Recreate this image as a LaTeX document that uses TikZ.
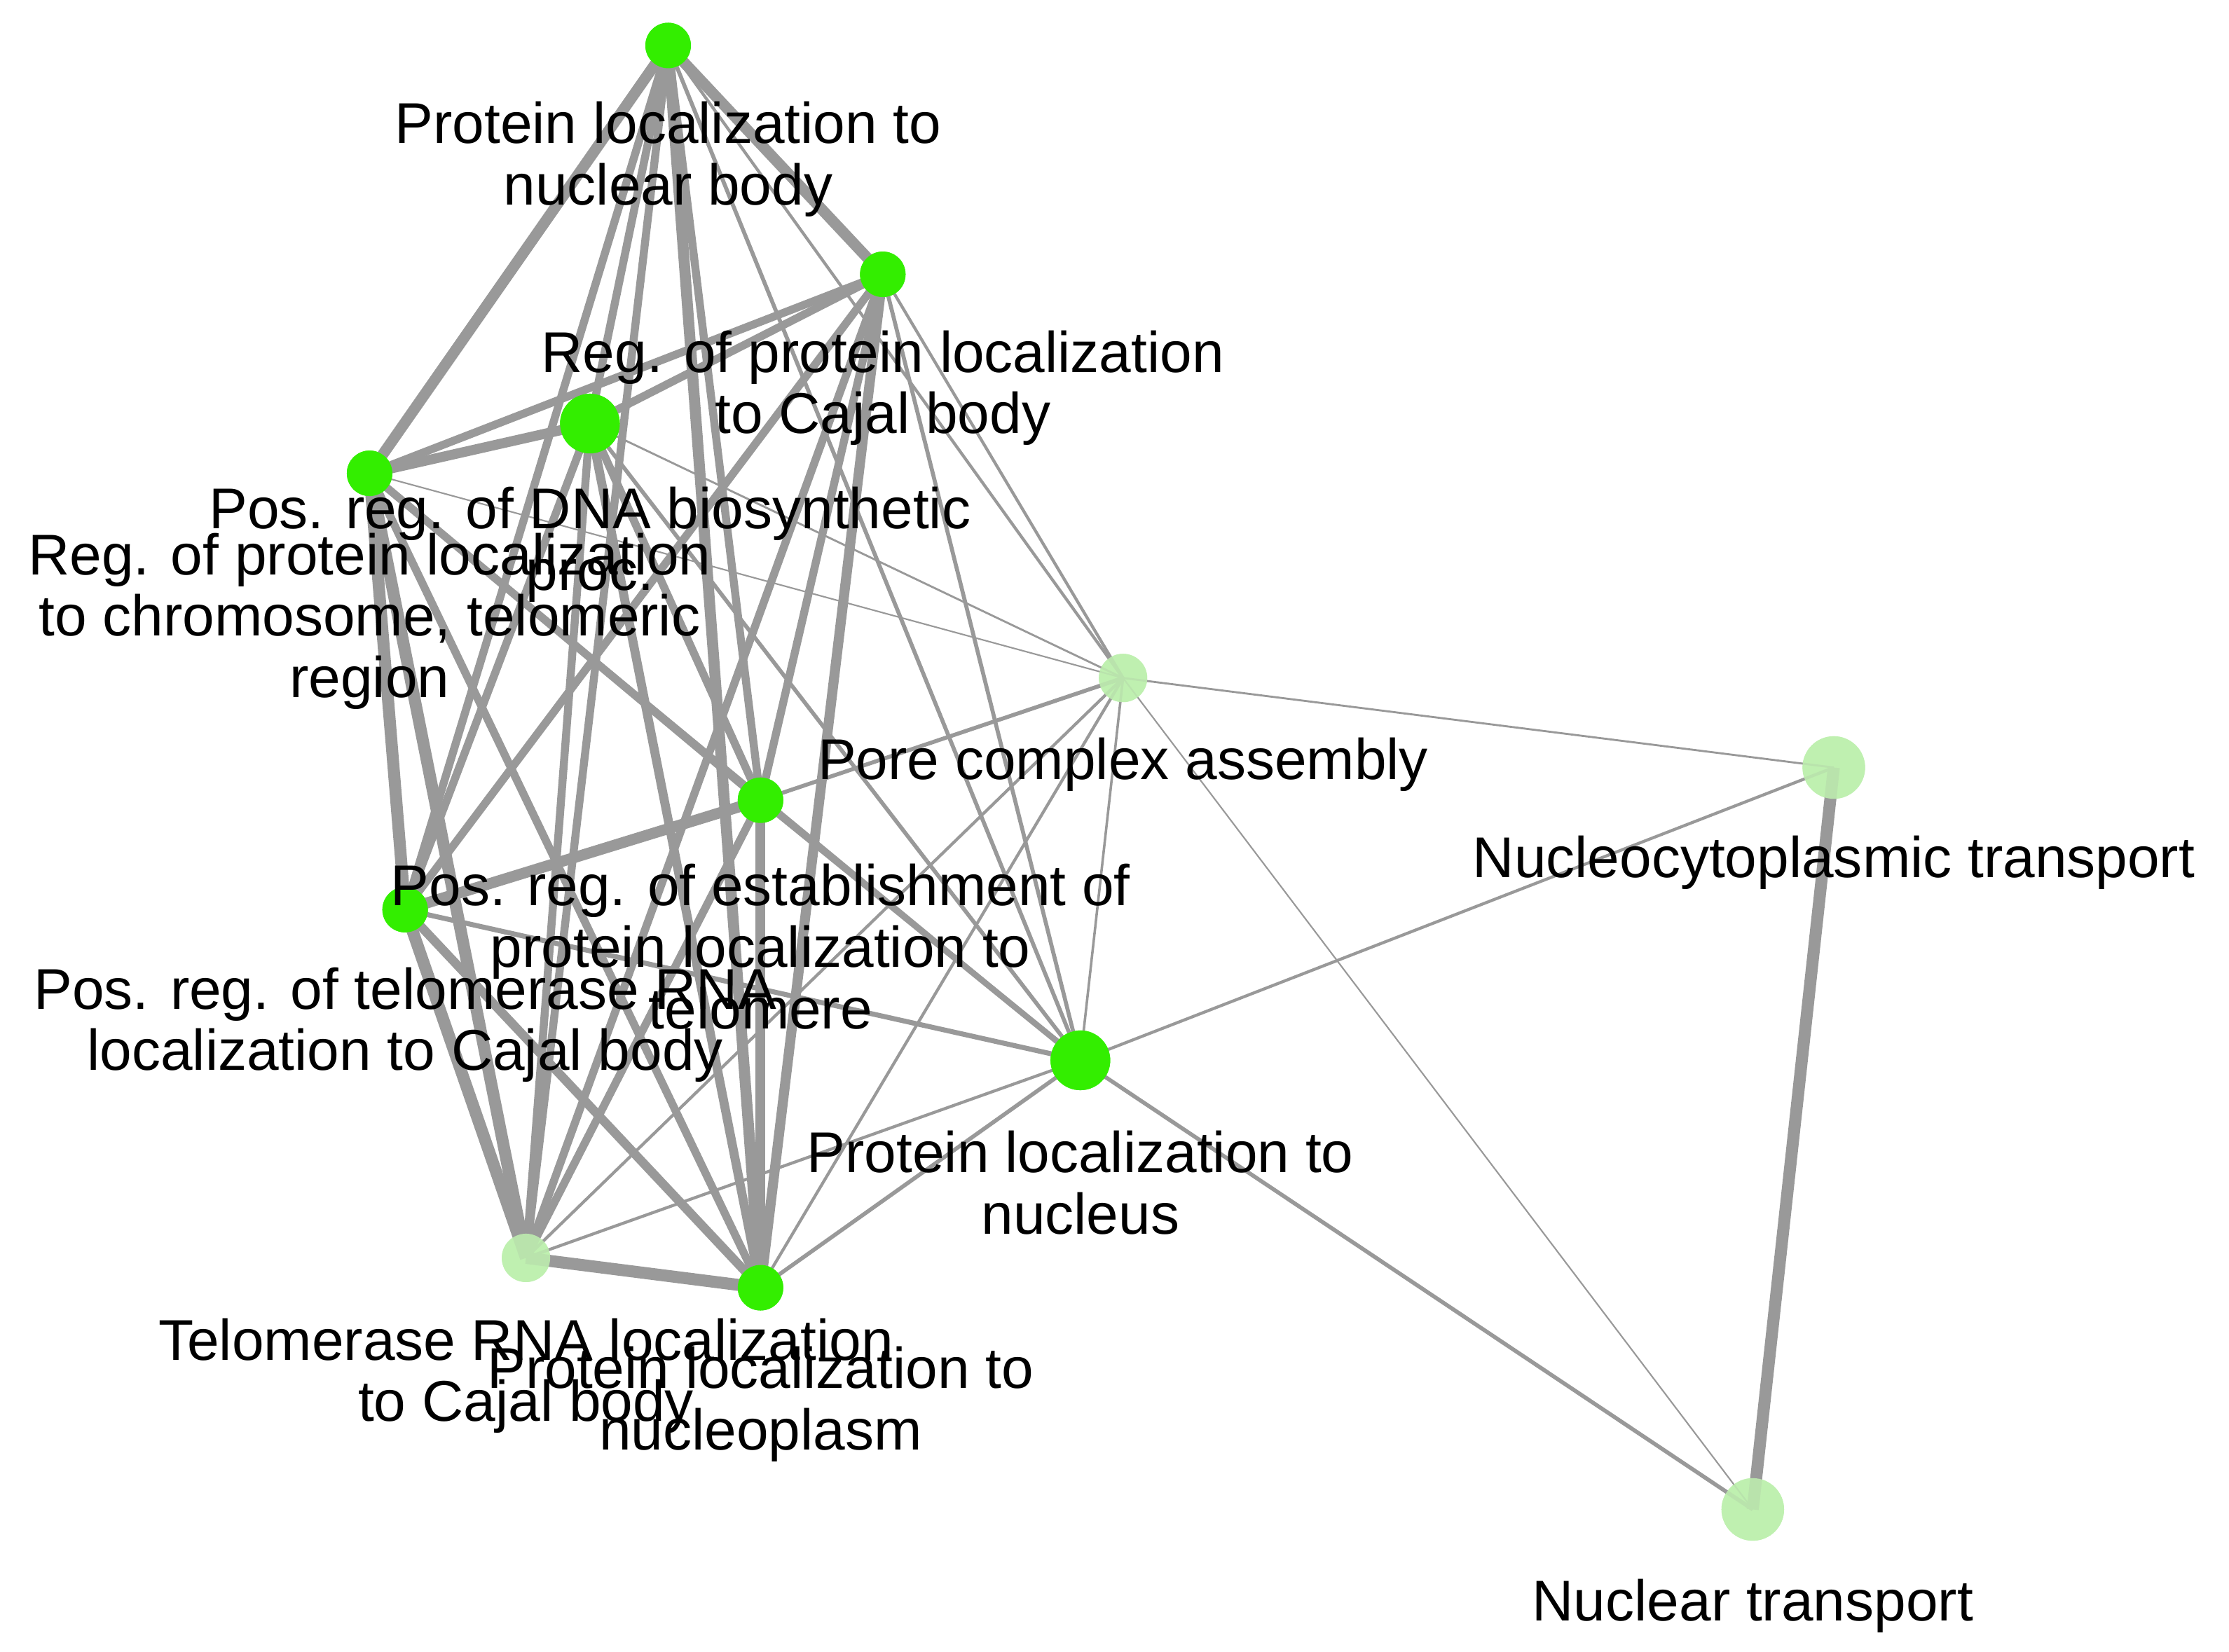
\documentclass[tikz,border=0pt]{standalone}
\usepackage{fontspec}
\setmainfont{Liberation Sans}
\usetikzlibrary{positioning}
\definecolor{termgreen}{HTML}{33EE00}
\definecolor{palegreen}{HTML}{BFF0B0}
\definecolor{edgegray}{HTML}{999999}
\begin{document}
\begin{tikzpicture}[x=0.01cm,y=-0.01cm,
    term/.style={circle,fill=termgreen,inner sep=0pt,minimum size=0.32cm},
    bigterm/.style={term,minimum size=0.42cm},
    paleterm/.style={circle,fill=palegreen,inner sep=0pt,minimum size=#1},
    lbl/.style={font=\fontsize{11.5}{12.3}\selectfont,align=center,inner sep=0pt},
    link/.style={draw=edgegray,line width=#1pt}]
  \useasboundingbox (0,0) rectangle (1568,1162);

  % terms
  \node[term]     (nucbody)    at (470,32)   {};
  \node[term]     (cajalreg)   at (621,193)  {};
  \node[bigterm]  (dnasyn)     at (415,298)  {};
  \node[term]     (chromreg)   at (260,333)  {};
  \node[paleterm=0.34cm] (pore) at (790,477) {};
  \node[paleterm=0.44cm] (ncyto) at (1290,540) {};
  \node[term]     (telomere)   at (535,563)  {};
  \node[term]     (rnacajal)   at (285,640)  {};
  \node[bigterm]  (nucleus)    at (760,746)  {};
  \node[paleterm=0.34cm] (tercajal) at (370,885) {};
  \node[term]     (nucplasm)   at (535,906)  {};
  \node[paleterm=0.44cm] (nuctrans) at (1233,1062) {};

  % links
  \foreach \a/\b/\w in {nucbody/cajalreg/2.2, nucbody/dnasyn/1.6, nucbody/chromreg/2.2,
      nucbody/telomere/1.6, nucbody/rnacajal/1.6, nucbody/tercajal/1.6, nucbody/nucplasm/2.2,
      nucbody/pore/0.6, nucbody/nucleus/0.8,
      cajalreg/dnasyn/1.6, cajalreg/chromreg/1.6, cajalreg/telomere/1.6, cajalreg/rnacajal/1.6,
      cajalreg/tercajal/1.6, cajalreg/nucplasm/2.0, cajalreg/pore/0.6, cajalreg/nucleus/0.8,
      dnasyn/chromreg/2.0, dnasyn/telomere/1.6, dnasyn/rnacajal/1.6, dnasyn/tercajal/1.6,
      dnasyn/nucplasm/1.8, dnasyn/pore/0.4, dnasyn/nucleus/0.8,
      chromreg/telomere/1.6, chromreg/rnacajal/2.4, chromreg/tercajal/2.4, chromreg/nucplasm/1.6,
      chromreg/pore/0.3, chromreg/nucleus/0.8,
      telomere/rnacajal/2.2, telomere/tercajal/1.6, telomere/nucplasm/2.0, telomere/pore/0.8,
      telomere/nucleus/1.2,
      rnacajal/tercajal/2.4, rnacajal/nucplasm/1.8, rnacajal/nucleus/1.0,
      tercajal/nucplasm/2.4, tercajal/nucleus/0.6, tercajal/pore/0.6,
      nucplasm/nucleus/0.8, nucplasm/pore/0.6,
      pore/nucleus/0.5, pore/ncyto/0.4, pore/nuctrans/0.3,
      nucleus/ncyto/0.6, nucleus/nuctrans/0.8, ncyto/nuctrans/2.4}
    \draw[link=\w] (\a.center) -- (\b.center);

  % redraw terms above links
  \foreach \n/\s in {nucbody/term, cajalreg/term, dnasyn/bigterm, chromreg/term,
      telomere/term, rnacajal/term, nucleus/bigterm, nucplasm/term}
    \node[\s] at (\n) {};
  \node[paleterm=0.34cm,opacity=0.85] at (pore) {};
  \node[paleterm=0.44cm,opacity=0.85] at (ncyto) {};
  \node[paleterm=0.34cm,opacity=0.85] at (tercajal) {};
  \node[paleterm=0.44cm,opacity=0.85] at (nuctrans) {};

  % labels
  \node[lbl] (l-nucbody)  at (470,112)  {Protein localization to\\nuclear body};
  \node[lbl] (l-cajalreg) at (621,273)  {Reg. of protein localization\\to Cajal body};
  \node[lbl] (l-dnasyn)   at (415,383)  {Pos. reg. of DNA biosynthetic\\proc.};
  \node[lbl] (l-chromreg) at (260,437)  {Reg. of protein localization\\to chromosome, telomeric\\region};
  \node[lbl] (l-pore)     at (790,538)  {Pore complex assembly};
  \node[lbl] (l-ncyto)    at (1290,607) {Nucleocytoplasmic transport};
  \node[lbl] (l-telomere) at (535,666)  {Pos. reg. of establishment of\\protein localization to\\telomere};
  \node[lbl] (l-rnacajal) at (285,721)  {Pos. reg. of telomerase RNA\\localization to Cajal body};
  \node[lbl] (l-nucleus)  at (760,832)  {Protein localization to\\nucleus};
  \node[lbl] (l-tercajal) at (370,968)  {Telomerase RNA localization\\to Cajal body};
  \node[lbl] (l-nucplasm) at (535,988)  {Protein localization to\\nucleoplasm};
  \node[lbl] (l-nuctrans) at (1233,1130) {Nuclear transport};
\end{tikzpicture}
\end{document}
